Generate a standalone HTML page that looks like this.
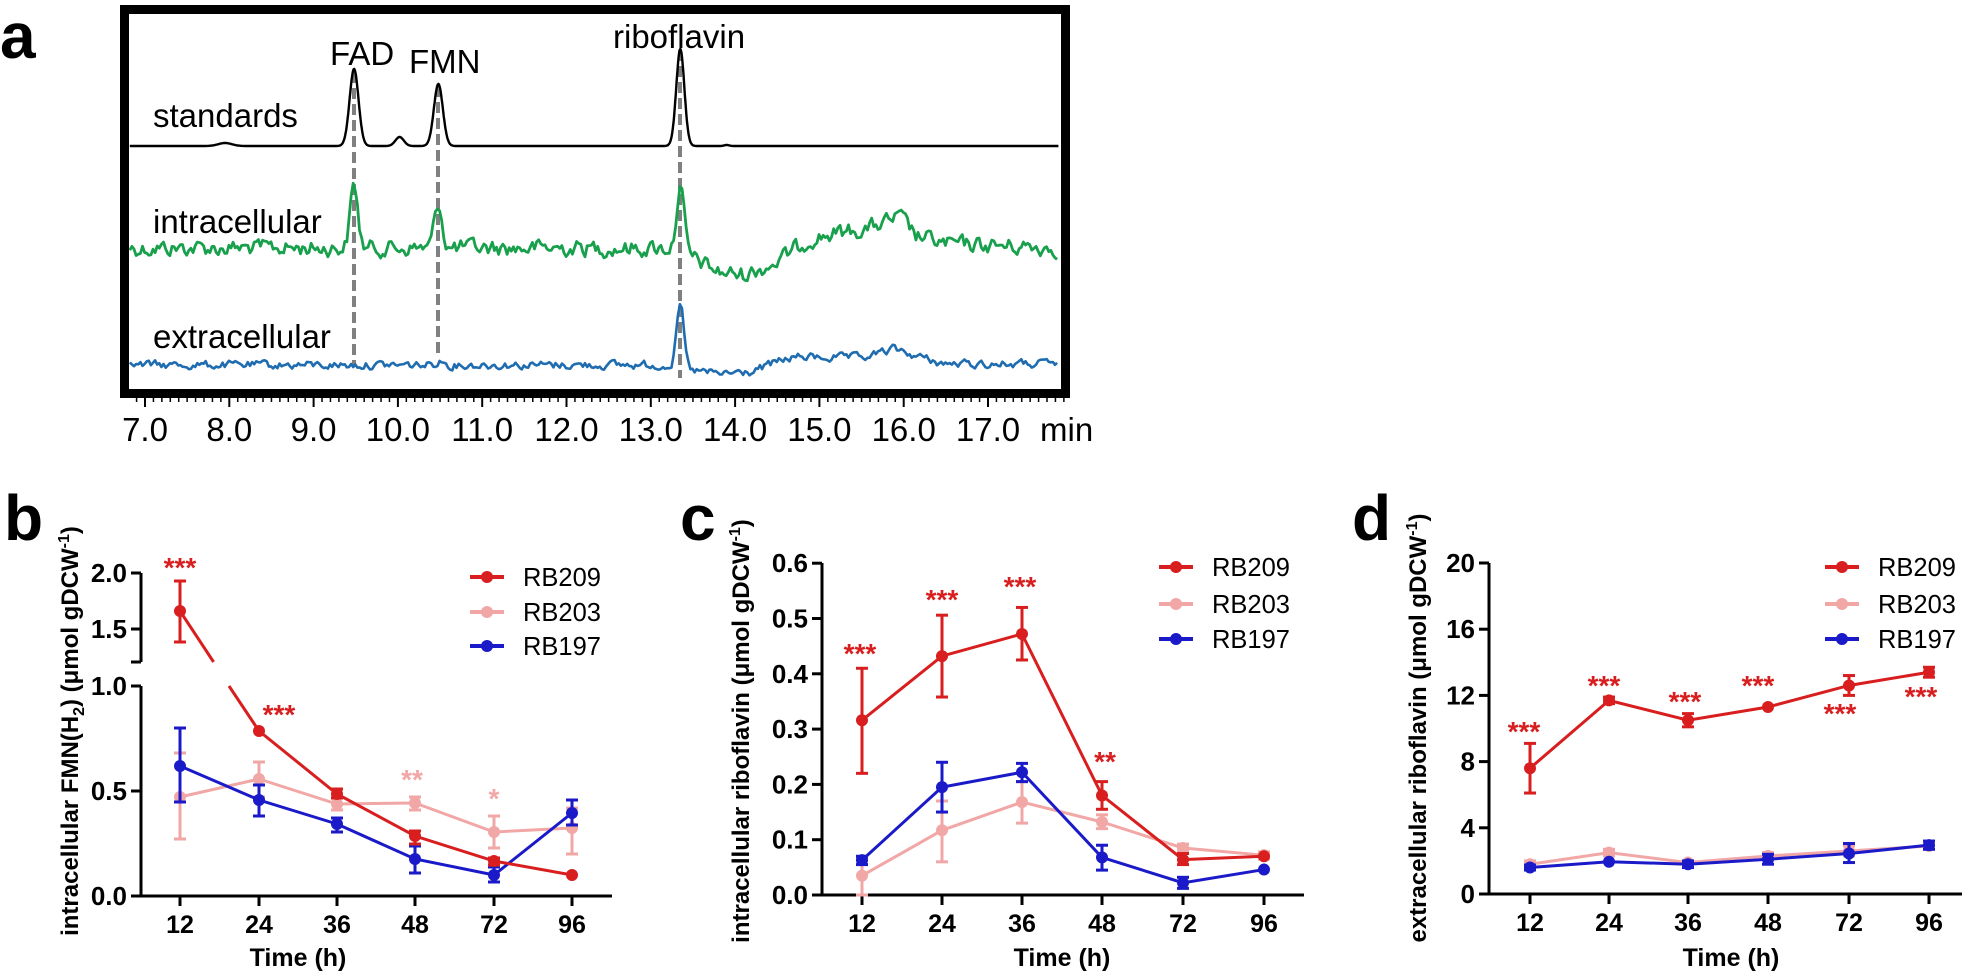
<!DOCTYPE html>
<html><head><meta charset="utf-8"><style>
html,body{margin:0;padding:0;background:#fff}
svg{display:block}
text{font-family:"Liberation Sans",Arial,sans-serif}
.b{font-weight:bold}
</style></head><body>
<svg id="s" width="1976" height="979" viewBox="0 0 1976 979" xmlns="http://www.w3.org/2000/svg">
<rect width="1976" height="979" fill="#fff"/>
<text x="0" y="58" font-size="64" class="b">a</text>
<g id="aTraces"></g>
<rect x="124.5" y="9.5" width="941" height="384" fill="none" stroke="#000" stroke-width="9"/>
<g font-size="33" fill="#000">
<text x="153" y="127">standards</text>
<text x="153" y="233">intracellular</text>
<text x="153" y="348">extracellular</text>
<text x="330" y="65">FAD</text>
<text x="409" y="73">FMN</text>
<text x="613" y="48">riboflavin</text>
</g>
<g id="aAxis" font-size="33"></g>
<g id="charts"></g>
</svg>
<script>
(function(){
var NS="http://www.w3.org/2000/svg";
function el(p,tag,attrs,txt){var e=document.createElementNS(NS,tag);for(var k in attrs)e.setAttribute(k,attrs[k]);if(txt!==undefined)e.textContent=txt;p.appendChild(e);return e;}
var seed=12345;function rnd(){seed=(seed*1103515245+12345)%2147483648;return seed/2147483648;}
function g(t,m,s){return Math.exp(-0.5*Math.pow((t-m)/s,2));}
function X(t){return 145+(t-7)*84.3;}
function interp(pts,t){if(t<=pts[0][0])return pts[0][1];for(var i=1;i<pts.length;i++){if(t<=pts[i][0]){var a=pts[i-1],b=pts[i];return a[1]+(b[1]-a[1])*(t-a[0])/(b[0]-a[0]);}}return pts[pts.length-1][1];}
var tr=document.getElementById('aTraces');
var t0=6.82,t1=17.84;
[[354,72,365],[438,86,357],[680,50,378]].forEach(function(d){el(tr,'line',{x1:d[0],y1:d[1],x2:d[0],y2:d[2],stroke:'#808080','stroke-width':4,'stroke-dasharray':'11 5'});});
var p='';for(var t=t0;t<=t1;t+=0.005){var y=146-77*g(t,9.48,0.053)-62*g(t,10.48,0.053)-97*g(t,13.35,0.048)-3*g(t,7.95,0.08)-9*g(t,10.02,0.05)-1*g(t,13.9,0.03);p+=(p?'L':'M')+X(t).toFixed(1)+' '+y.toFixed(1);}
el(tr,'path',{d:p,fill:'none',stroke:'#000','stroke-width':2.4});
var gp=[[6.8,248],[13.2,248],[13.45,256],[13.8,272],[14.1,275],[14.5,262],[14.9,238],[15.3,232],[15.6,228],[15.95,217],[16.15,236],[16.5,244],[17.9,248]];
p='';var n=0;for(var t=t0;t<=t1;t+=0.025){n=0.5*n+(rnd()-0.5)*14;var y=interp(gp,t)+n-63*g(t,9.48,0.045)-45*g(t,10.48,0.045)-66*g(t,13.35,0.045);p+=(p?'L':'M')+X(t).toFixed(1)+' '+y.toFixed(1);}
el(tr,'path',{d:p,fill:'none',stroke:'#18a04c','stroke-width':2.8,'stroke-linejoin':'round'});
var bp=[[6.8,365],[13.2,365],[13.45,370],[13.8,374],[14.2,372],[14.5,362],[14.7,357],[15.5,358],[15.9,349],[16.3,360],[16.5,364],[17.9,364]];
p='';n=0;for(var t=t0;t<=t1;t+=0.025){n=0.5*n+(rnd()-0.5)*7;var y=interp(bp,t)+n-63*g(t,13.35,0.042)-4*g(t,10.5,0.05);p+=(p?'L':'M')+X(t).toFixed(1)+' '+y.toFixed(1);}
el(tr,'path',{d:p,fill:'none',stroke:'#1f6db0','stroke-width':2.6,'stroke-linejoin':'round'});
var ax=document.getElementById('aAxis');
for(var i=0;i<=110;i++){var t=6.9+i*0.1;var x=X(t);if(x<122||x>1068)continue;var major=Math.abs(t-Math.round(t))<0.01;el(ax,'line',{x1:x,y1:398,x2:x,y2:major?407:402,stroke:'#000','stroke-width':major?2:1.5});}
for(var k=7;k<=17;k++){el(ax,'text',{x:X(k),y:441,'text-anchor':'middle'},k+'.0');}
el(ax,'text',{x:1040,y:441},'min');

var C=document.getElementById('charts');
var RED='#d81e1e',PINK='#f2a7a7',BLUE='#1a1ac8';
function chart(o){
 var G=el(C,'g',{});
 if(o.breakAxis){
  el(G,'line',{x1:o.ax,y1:o.yTop,x2:o.ax,y2:662,stroke:'#000','stroke-width':3});
  el(G,'line',{x1:o.ax,y1:686,x2:o.ax,y2:o.y0,stroke:'#000','stroke-width':3});
  el(G,'line',{x1:o.ax-10,y1:662,x2:o.ax,y2:662,stroke:'#000','stroke-width':3});
 } else el(G,'line',{x1:o.ax,y1:o.yTop,x2:o.ax,y2:o.y0,stroke:'#000','stroke-width':3});
 el(G,'line',{x1:o.ax-1.5,y1:o.y0,x2:o.axEnd,y2:o.y0,stroke:'#000','stroke-width':3});
 o.yt.forEach(function(t){el(G,'line',{x1:o.ax-10,y1:t[0],x2:o.ax,y2:t[0],stroke:'#000','stroke-width':3});el(G,'text',{x:o.ax-14,y:t[0]+9,'text-anchor':'end','font-size':26,'class':'b'},t[1]);});
 var labs=['12','24','36','48','72','96'];
 o.xs.forEach(function(x,i){el(G,'line',{x1:x,y1:o.y0,x2:x,y2:o.y0+10,stroke:'#000','stroke-width':3});el(G,'text',{x:x,y:o.y0+37,'text-anchor':'middle','font-size':25,'class':'b'},labs[i]);});
 el(G,'text',{x:o.timeX,y:966,'text-anchor':'middle','font-size':25,'class':'b'},'Time (h)');
 var yl=el(G,'text',{x:0,y:0,'text-anchor':'middle','font-size':24,'class':'b',transform:'translate('+(o.ylx+9)+','+o.yly+') rotate(-90)'});
 o.ylab(yl);
 el(G,'text',{x:o.letX,y:540,'font-size':64,'class':'b'},o.letter);
 [['p',PINK],['b',BLUE],['r',RED]].forEach(function(s){
  var d=o.data[s[0]];var pts=d.map(function(v,i){return [o.xs[i],v[0]];});
  if(o.gap&&s[0]=='r'){
   el(G,'polyline',{points:pts.slice(1).map(function(q){return q.join(',')}).join(' '),fill:'none',stroke:s[1],'stroke-width':3});
   el(G,'line',{x1:pts[0][0],y1:pts[0][1],x2:213.6,y2:662,stroke:s[1],'stroke-width':3});
   el(G,'line',{x1:229,y1:686,x2:pts[1][0],y2:pts[1][1],stroke:s[1],'stroke-width':3});
  } else el(G,'polyline',{points:pts.map(function(q){return q.join(',')}).join(' '),fill:'none',stroke:s[1],'stroke-width':3});
  d.forEach(function(v,i){var x=o.xs[i];
   if(v[1]!==undefined){el(G,'line',{x1:x,y1:v[1],x2:x,y2:v[2],stroke:s[1],'stroke-width':3});
    el(G,'line',{x1:x-6,y1:v[1],x2:x+6,y2:v[1],stroke:s[1],'stroke-width':3});
    el(G,'line',{x1:x-6,y1:v[2],x2:x+6,y2:v[2],stroke:s[1],'stroke-width':3});}
   el(G,'circle',{cx:x,cy:v[0],r:6,fill:s[1]});});
 });
 [['RB209',RED],['RB203',PINK],['RB197',BLUE]].forEach(function(l,i){var y=o.legY[i];
  el(G,'line',{x1:o.legX,y1:y,x2:o.legX+34,y2:y,stroke:l[1],'stroke-width':4});
  el(G,'circle',{cx:o.legX+17,cy:y,r:6,fill:l[1]});
  el(G,'text',{x:o.legX+53,y:y+9,'font-size':25.5},l[0]);});
 o.stars.forEach(function(s){el(G,'text',{x:s[0],y:s[1]+17,'text-anchor':'middle','font-size':28,'class':'b',fill:s[3]||RED},s[2]);});
}
function ylab(main){return function(t){main.forEach(function(p){el(t,'tspan',p[1]||{},p[0]);});};}
chart({ax:141,axEnd:612,y0:896,yTop:573,breakAxis:true,gap:true,
 yt:[[573,'2.0'],[629,'1.5'],[686,'1.0'],[791,'0.5'],[896,'0.0']],
 xs:[180,259,337,415,494,572],timeX:298,ylx:69,yly:731,letX:4,letter:'b',
 ylab:ylab([['intracellular FMN(H'],['2',{'font-size':16,dy:6}],[') (μmol gDCW',{dy:-6}],['-1',{'font-size':16,dy:-9}],[')',{dy:9}]]),
 data:{r:[[611,581,642],[731],[794,789,798],[836,831,844],[861,858,865],[875]],
  p:[[797,753,839],[779,762,797],[804,798,810],[803,797,810],[832,816,848],[828,808,854]],
  b:[[766,728,802],[800,785,816],[824,818,832],[859,846,873],[875,867,882],[813,800,825]]},
 legX:470,legY:[577,612,646],
 stars:[[180,560,'***'],[279,707,'***'],[412,772,'**',PINK],[494,791,'*',PINK]]});
function yc(v){return 895-553*v;}
function tri(a,b,c){return b===undefined?[yc(a)]:[yc(a),yc(c),yc(b)];}
chart({ax:822,axEnd:1304,y0:895,yTop:563,
 yt:[[yc(.6),'0.6'],[yc(.5),'0.5'],[yc(.4),'0.4'],[yc(.3),'0.3'],[yc(.2),'0.2'],[yc(.1),'0.1'],[yc(0),'0.0']],
 xs:[862,942,1022,1102,1183,1264],timeX:1062,ylx:740,yly:731,letX:680,letter:'c',
 ylab:ylab([['intracellular riboflavin (μmol gDCW'],['-1',{'font-size':16,dy:-9}],[')',{dy:9}]]),
 data:{r:[tri(.316,.22,.41),tri(.432,.358,.506),tri(.472,.425,.52),tri(.18,.155,.205),tri(.064,.055,.075),tri(.07)],
  p:[tri(.035,0,.065),tri(.117,.06,.17),tri(.168,.13,.205),tri(.132,.12,.145),tri(.085,.078,.092),tri(.072,.065,.078)],
  b:[tri(.063,.055,.07),tri(.195,.15,.24),tri(.222,.205,.238),tri(.068,.045,.09),tri(.022,.012,.032),tri(.046)]},
 legX:1159,legY:[567,604,639],
 stars:[[860,646,'***'],[942,592,'***'],[1020,579,'***'],[1105,754,'**']]});
function yd(v){return 894-16.55*v;}
function trd(a,b,c){return b===undefined?[yd(a)]:[yd(a),yd(c),yd(b)];}
chart({ax:1489,axEnd:1962,y0:894,yTop:563,
 yt:[[yd(20),'20'],[yd(16),'16'],[yd(12),'12'],[yd(8),'8'],[yd(4),'4'],[yd(0),'0']],
 xs:[1530,1609,1688,1768,1849,1929],timeX:1731,ylx:1417,yly:728,letX:1352,letter:'d',
 ylab:ylab([['extracellular riboflavin (μmol gDCW'],['-1',{'font-size':16,dy:-9}],[')',{dy:9}]]),
 data:{r:[trd(7.6,6.1,9.1),trd(11.7,11.5,11.9),trd(10.5,10.1,10.9),trd(11.3),trd(12.6,12.0,13.2),trd(13.4,13.1,13.7)],
  p:[trd(1.8,1.6,2.0),trd(2.5,2.3,2.7),trd(1.9),trd(2.3,2.1,2.5),trd(2.6,2.3,2.9),trd(2.9)],
  b:[trd(1.6,1.45,1.75),trd(1.95),trd(1.8,1.6,2.0),trd(2.1,1.8,2.4),trd(2.45,1.9,3.05),trd(2.95,2.7,3.2)]},
 legX:1825,legY:[567,604,639],
 stars:[[1524,724,'***'],[1604,678,'***'],[1685,694,'***'],[1758,678,'***'],[1840,706,'***'],[1921,689,'***']]});
})();
</script>
</body></html>
